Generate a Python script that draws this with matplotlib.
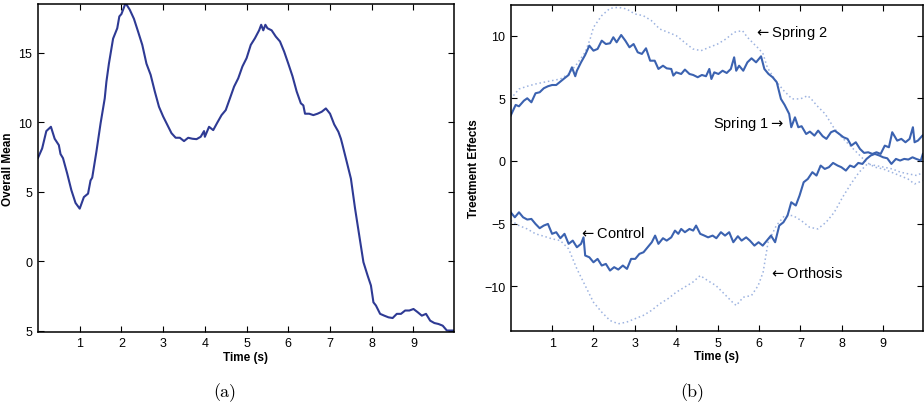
import matplotlib
matplotlib.use("Agg")
import matplotlib.pyplot as plt

plt.rcParams["font.family"] = ["Liberation Sans", "DejaVu Sans"]
plt.rcParams["mathtext.fontset"] = "dejavusans"

# -------------------------------
# Data
# -------------------------------
# (a) overall mean
t_mean = [0.0, 0.1, 0.2, 0.31, 0.4, 0.5, 0.54, 0.6, 0.7, 0.8, 0.9, 1.0, 1.1, 1.2, 1.26, 1.3,
          1.4, 1.5, 1.6, 1.64, 1.7, 1.8, 1.9, 1.95, 2.0, 2.1, 2.2, 2.3, 2.4, 2.5, 2.6, 2.7,
          2.8, 2.9, 3.0, 3.1, 3.2, 3.3, 3.4, 3.5, 3.6, 3.7, 3.8, 3.9, 3.98, 4.0, 4.1, 4.2,
          4.3, 4.4, 4.5, 4.6, 4.7, 4.8, 4.9, 5.0, 5.1, 5.2, 5.3, 5.35, 5.4, 5.45, 5.5, 5.6,
          5.7, 5.8, 5.9, 6.0, 6.1, 6.2, 6.3, 6.36, 6.4, 6.5, 6.6, 6.7, 6.8, 6.9, 7.0, 7.1,
          7.2, 7.26, 7.3, 7.4, 7.5, 7.6, 7.7, 7.8, 7.9, 7.98, 8.04, 8.1, 8.2, 8.3, 8.4, 8.5,
          8.6, 8.7, 8.8, 8.9, 9.0, 9.1, 9.2, 9.3, 9.4, 9.5, 9.6, 9.7, 9.8, 9.9, 9.97]
overall_mean = [7.42, 8.1, 9.35, 9.66, 8.8, 8.34, 7.7, 7.4, 6.3, 5.1, 4.18, 3.77, 4.6, 4.85, 5.8, 6.0,
                7.86, 9.9, 11.7, 12.9, 14.2, 16.0, 16.75, 17.6, 17.77, 18.56, 18.08, 17.43, 16.5, 15.55, 14.2, 13.4,
                12.2, 11.1, 10.4, 9.8, 9.2, 8.87, 8.87, 8.63, 8.87, 8.8, 8.77, 8.94, 9.35, 8.94, 9.66, 9.42,
                9.97, 10.5, 10.86, 11.7, 12.55, 13.15, 14.0, 14.6, 15.55, 16.03, 16.6, 17.0, 16.6, 17.0, 16.75, 16.6,
                16.15, 15.8, 15.07, 14.2, 13.3, 12.2, 11.35, 11.2, 10.6, 10.6, 10.5, 10.6, 10.74, 10.98, 10.6, 9.83,
                9.3, 8.8, 8.34, 7.14, 5.93, 3.77, 1.84, -0.08, -1.04, -1.76, -2.97, -3.2, -3.8, -3.93, -4.05, -4.1,
                -3.8, -3.8, -3.56, -3.56, -3.45, -3.68, -3.93, -3.8, -4.29, -4.46, -4.53, -4.65, -5.0, -5.0, -5.0]

# (b) treatment effects, solid lines
t_spring1 = [0.0, 0.12, 0.2, 0.32, 0.4, 0.5, 0.6, 0.7, 0.8, 0.9, 1.0, 1.1, 1.2, 1.3, 1.4, 1.48,
             1.56, 1.6, 1.7, 1.8, 1.9, 2.0, 2.1, 2.2, 2.3, 2.4, 2.48, 2.56, 2.67, 2.77, 2.87, 2.97,
             3.07, 3.17, 3.27, 3.37, 3.48, 3.57, 3.68, 3.77, 3.88, 3.93, 4.0, 4.12, 4.21, 4.32, 4.41, 4.52,
             4.62, 4.72, 4.8, 4.85, 4.92, 5.02, 5.12, 5.22, 5.32, 5.4, 5.45, 5.52, 5.62, 5.72, 5.82, 5.93,
             6.05, 6.13, 6.23, 6.33, 6.43, 6.53, 6.62, 6.73, 6.78, 6.87, 6.95, 7.03, 7.14, 7.23, 7.34, 7.43,
             7.54, 7.63, 7.74, 7.83, 7.94, 8.04, 8.14, 8.23, 8.34, 8.44, 8.54, 8.64, 8.74, 8.84, 8.94, 9.04,
             9.14, 9.22, 9.34, 9.44, 9.54, 9.64, 9.72, 9.76, 9.84, 9.95]
spring1 = [3.62, 4.47, 4.36, 4.81, 5.0, 4.68, 5.4, 5.48, 5.8, 5.96, 6.06, 6.06, 6.33, 6.6, 6.86, 7.47,
           6.76, 7.2, 7.87, 8.46, 9.2, 8.8, 8.94, 9.6, 9.33, 9.39, 9.87, 9.47, 10.05, 9.6, 9.07, 9.33,
           8.67, 8.54, 8.99, 8.0, 8.0, 7.34, 7.6, 7.39, 7.34, 6.81, 7.07, 6.94, 7.29, 6.94, 6.86, 6.68,
           6.86, 6.76, 7.34, 6.54, 7.07, 6.94, 7.2, 7.02, 7.34, 8.27, 7.2, 7.6, 7.2, 7.87, 8.19, 7.87,
           8.35, 7.34, 6.94, 6.68, 6.28, 4.95, 4.47, 3.75, 2.69, 3.48, 2.69, 2.77, 2.15, 2.34, 2.02, 2.42,
           1.97, 1.76, 2.29, 2.42, 2.15, 1.89, 1.76, 1.22, 1.49, 0.96, 0.64, 0.69, 0.56, 0.69, 0.56, 1.22,
           1.09, 2.29, 1.62, 1.76, 1.49, 1.76, 2.69, 1.49, 1.62, 2.02]

t_control = [0.0, 0.1, 0.2, 0.3, 0.4, 0.5, 0.6, 0.7, 0.8, 0.9, 1.0, 1.1, 1.2, 1.3, 1.4, 1.5,
             1.6, 1.7, 1.76, 1.8, 1.9, 2.0, 2.1, 2.2, 2.3, 2.4, 2.5, 2.6, 2.71, 2.81, 2.91, 3.01,
             3.11, 3.21, 3.31, 3.41, 3.49, 3.57, 3.68, 3.77, 3.88, 3.97, 4.05, 4.12, 4.21, 4.32, 4.41, 4.48,
             4.58, 4.68, 4.77, 4.88, 4.97, 5.08, 5.18, 5.28, 5.38, 5.49, 5.58, 5.69, 5.78, 5.89, 5.99, 6.09,
             6.19, 6.29, 6.39, 6.49, 6.59, 6.69, 6.78, 6.89, 6.98, 7.08, 7.18, 7.29, 7.39, 7.49, 7.59, 7.69,
             7.79, 7.9, 7.99, 8.1, 8.2, 8.3, 8.4, 8.5, 8.6, 8.7, 8.8, 8.91, 9.0, 9.1, 9.2, 9.31,
             9.41, 9.51, 9.61, 9.71, 9.8, 9.91, 9.96]
control = [-4.1, -4.5, -4.1, -4.5, -4.68, -4.63, -5.03, -5.37, -5.16, -5.03, -5.82, -5.69, -6.17, -5.82, -6.62, -6.36,
           -6.89, -6.62, -6.1, -7.55, -7.69, -8.09, -7.82, -8.35, -8.22, -8.75, -8.48, -8.67, -8.35, -8.62, -7.82, -7.82,
           -7.42, -7.29, -6.89, -6.49, -5.96, -6.62, -6.17, -6.36, -6.1, -5.56, -5.82, -5.43, -5.69, -5.43, -5.56, -5.16,
           -5.82, -5.96, -6.1, -5.96, -6.17, -5.69, -5.96, -5.69, -6.49, -6.01, -6.36, -6.1, -6.36, -6.76, -6.49, -6.76,
           -6.36, -5.96, -6.49, -5.16, -4.9, -4.36, -3.3, -3.56, -2.77, -1.7, -1.44, -0.9, -1.17, -0.37, -0.64, -0.5,
           -0.16, -0.37, -0.5, -0.77, -0.37, -0.5, -0.16, -0.24, 0.16, 0.43, 0.56, 0.43, 0.29, 0.21, -0.24, 0.16,
           0.03, 0.16, 0.11, 0.29, 0.16, 0.03, 0.56]

# (b) treatment effects, dotted lines
t_spring2 = [0.0, 0.2, 0.4, 0.6, 0.8, 1.0, 1.2, 1.4, 1.6, 1.8, 1.92, 2.0, 2.2, 2.4, 2.6, 2.8,
             3.0, 3.2, 3.4, 3.6, 3.8, 4.0, 4.2, 4.4, 4.6, 4.8, 5.0, 5.2, 5.4, 5.6, 5.72, 5.88,
             6.0, 6.1, 6.2, 6.4, 6.6, 6.8, 7.0, 7.18, 7.3, 7.4, 7.6, 7.8, 8.0, 8.2, 8.4, 8.6,
             8.8, 9.0, 9.2, 9.4, 9.6, 9.76, 9.96]
spring2 = [4.95, 5.74, 5.96, 6.14, 6.28, 6.41, 6.54, 6.94, 7.74, 8.67, 9.73, 10.66, 11.6, 12.18, 12.26, 12.13,
           11.73, 11.6, 11.2, 10.53, 10.27, 10.0, 9.47, 8.94, 8.8, 9.07, 9.33, 9.73, 10.27, 10.4, 9.87, 9.33,
           8.94, 8.54, 7.47, 6.41, 5.61, 4.95, 4.95, 5.21, 4.81, 4.41, 3.75, 2.69, 1.89, 1.22, 0.56, -0.11,
           -0.5, -0.64, -0.9, -1.17, -1.44, -1.84, -1.57]

t_orthosis = [0.0, 0.2, 0.4, 0.6, 0.8, 1.0, 1.2, 1.4, 1.6, 1.8, 2.0, 2.2, 2.4, 2.6, 2.8, 3.0,
              3.2, 3.4, 3.6, 3.8, 4.0, 4.2, 4.4, 4.58, 4.76, 4.96, 5.16, 5.36, 5.45, 5.62, 5.82, 5.98,
              6.1, 6.22, 6.42, 6.62, 6.82, 7.02, 7.22, 7.42, 7.62, 7.82, 8.02, 8.22, 8.42, 8.62, 8.82, 9.02,
              9.22, 9.42, 9.62, 9.82, 9.96]
orthosis = [-4.76, -5.16, -5.43, -5.82, -6.01, -6.22, -6.36, -7.02, -8.62, -9.95, -11.28, -12.07, -12.74, -13.0, -12.87, -12.6,
            -12.34, -11.94, -11.41, -11.0, -10.48, -10.08, -9.68, -9.15, -9.55, -9.95, -10.61, -11.28, -11.54, -10.88, -10.74, -9.95,
            -8.88, -6.49, -5.16, -4.36, -4.36, -4.76, -5.29, -5.43, -4.9, -4.1, -2.9, -1.84, -0.9, -0.24, -0.37, -0.5,
            -0.64, -0.9, -1.04, -1.17, -0.9]

x_ticks = [1, 2, 3, 4, 5, 6, 7, 8, 9]
left_yticks = [-5, 0, 5, 10, 15]
left_yticklabels = ["5", "0", "5", "10", "15"]
right_yticks = [-10, -5, 0, 5, 10]

# -------------------------------
# Figure
# -------------------------------
fig = plt.figure(figsize=(9.24, 4.10), dpi=100)
ax1 = fig.add_axes([0.0411, 0.188, 0.4502, 0.800])
ax2 = fig.add_axes([0.5527, 0.1895, 0.4465, 0.7960])

for ax in (ax1, ax2):
    ax.tick_params(direction="in", length=4, width=0.8, top=True, right=True,
                   labelsize=9, pad=4)
    for s in ax.spines.values():
        s.set_linewidth(1.1)
    ax.set_xticks(x_ticks)
    ax.set_xlim(0.0, 9.97)
    ax.set_xlabel("Time (s)", fontsize=8.5, fontweight="bold", labelpad=1)

# (a)
ax1.plot(t_mean, overall_mean, color="#2e3a94", lw=1.5)
ax1.set_ylim(-5.1, 18.5)
ax1.set_yticks(left_yticks)
ax1.set_yticklabels(left_yticklabels)
ax1.set_ylabel("Overall Mean", fontsize=8.5, fontweight="bold", labelpad=3)

# (b)
ax2.plot(t_spring2, spring2, color="#9db3e0", lw=1.1, ls=(0, (1, 1.8)))
ax2.plot(t_orthosis, orthosis, color="#9db3e0", lw=1.1, ls=(0, (1, 1.8)))
ax2.plot(t_spring1, spring1, color="#3b62b0", lw=1.5)
ax2.plot(t_control, control, color="#3b62b0", lw=1.5)
ax2.set_ylim(-13.6, 12.45)
ax2.set_yticks(right_yticks)
ax2.set_ylabel("Treetment Effects", fontsize=8.5, fontweight="bold", labelpad=3)

# arrows in braces so mathtext adds no relation spacing
ax2.text(5.88, 10.27, r"${\leftarrow}$Spring 2", fontsize=10.5, va="center", ha="left")
ax2.text(6.6, 3.05, r"Spring 1${\rightarrow}$", fontsize=10.5, va="center", ha="right")
ax2.text(1.64, -5.74, r"${\leftarrow}$Control", fontsize=10.5, va="center", ha="left")
ax2.text(6.25, -8.94, r"${\leftarrow}$Orthosis", fontsize=10.5, va="center", ha="left")

fig.text(0.2435, 0.042, "(a)", fontsize=13, family="cmr10", ha="center", va="center")
fig.text(0.749, 0.042, "(b)", fontsize=13, family="cmr10", ha="center", va="center")

fig.savefig("out.png", dpi=100)
